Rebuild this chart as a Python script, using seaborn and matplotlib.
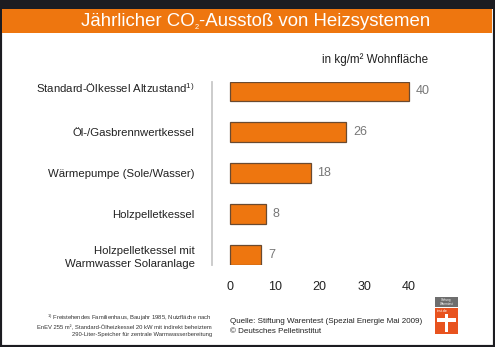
import matplotlib
matplotlib.use("Agg")
import matplotlib.pyplot as plt
import seaborn as sns
import pandas as pd
from matplotlib.patches import Rectangle
from matplotlib.transforms import ScaledTranslation

categories = [
    "Standard-Ölkessel Altzustand$^{1)}$",
    "Öl-/Gasbrennwertkessel",
    "Wärmepumpe (Sole/Wasser)",
    "Holzpelletkessel",
    "Holzpelletkessel mit\nWarmwasser Solaranlage",
]
values = [40, 26, 18, 8, 7]
xticks = [0, 10, 20, 30, 40]

title_parts = ["Jährlicher CO", "2", "-Ausstoß von Heizsystemen"]
unit_label = "in kg/m² Wohnfläche"
footnote = ("$^{1)}$ Freistehendes Familienhaus, Baujahr 1985, Nutzfläche nach\n"
            "EnEV 255 m², Standard-Ölheizkessel 20 kW mit indirekt beheiztem\n"
            "290-Liter-Speicher für zentrale Warmwasserbereitung")
source = "Quelle: Stiftung Warentest (Spezial Energie Mai 2009)\n© Deutsches Pelletinstitut"

ORANGE = "#ee760f"
DARK = "#1c1c21"

sns.set_theme(style="white")
plt.rcParams["font.family"] = ["Liberation Sans", "DejaVu Sans"]
plt.rcParams["mathtext.fontset"] = "custom"
plt.rcParams["mathtext.rm"] = "Liberation Sans"
plt.rcParams["mathtext.it"] = "Liberation Sans"
plt.rcParams["mathtext.bf"] = "Liberation Sans:bold"

W, H = 495, 347
fig = plt.figure(figsize=(W / 100, H / 100), dpi=100)
fig.patch.set_facecolor("white")

def fx(px):
    return px / W

def fy(py):
    return 1 - py / H

# frame and title band
fig.add_artist(Rectangle((0, 0), 1, 1, transform=fig.transFigure, facecolor="none",
                         edgecolor=DARK, linewidth=3.0))
fig.add_artist(Rectangle((0, fy(8.5)), 1, 8.5 / H, transform=fig.transFigure,
                         facecolor=DARK, edgecolor="none"))
fig.add_artist(Rectangle((fx(1.5), fy(32.5)), fx(492) - fx(1.5), 24 / H, transform=fig.transFigure,
                         facecolor=ORANGE, edgecolor="none"))

# axes
left_px, right_px = 212, 470
top_px, bot_px = 81.5, 264.5
ax = fig.add_axes([fx(left_px), fy(bot_px), fx(right_px) - fx(left_px), (bot_px - top_px) / H])

df = pd.DataFrame({"cat": categories, "val": values})
sns.barplot(data=df, x="val", y="cat", orient="h", color=ORANGE, width=0.48,
            edgecolor="#6a4a30", linewidth=0.9, saturation=1, ax=ax)

px_per_unit = (409 - 230) / 40
ax.set_xlim(-(230 - left_px) / px_per_unit, -(230 - left_px) / px_per_unit + (right_px - left_px) / px_per_unit)
ax.set_ylim(4.24, -0.24)

for c in ax.containers:
    ax.bar_label(c, padding=5, color="#777777", fontsize=9)

ax.set_xticks(xticks)
ax.set_xticklabels([str(t) for t in xticks])
ax.set_xlabel("")
ax.set_ylabel("")
ax.tick_params(axis="x", length=0, pad=12, labelsize=9, colors="#222222")
ax.tick_params(axis="y", length=0, pad=12.5, labelsize=8.2, colors="#222222")
for s in ["top", "right", "bottom"]:
    ax.spines[s].set_visible(False)
ax.spines["left"].set_color("#c8c8c8")
ax.spines["left"].set_linewidth(1.3)
ax.set_facecolor("none")

t_unit = fig.text(fx(322), fy(60), unit_label, fontsize=8.2, color="#222222", ha="left", va="center")
t_foot = fig.text(fx(212), fy(325), footnote, fontsize=4.4, color="#333333", ha="right", va="center",
                  linespacing=1.45, multialignment="right")
t_src = fig.text(fx(230), fy(326.5), source, fontsize=6.0, color="#222222", ha="left", va="center",
                 linespacing=1.45)

# fit text sizes to the widths measured on the reference
fig.canvas.draw()
renderer = fig.canvas.get_renderer()

def fit(t, target):
    w = t.get_window_extent(renderer).width
    t.set_fontsize(t.get_fontsize() * target / w)

fit(t_unit, 106)
fit(t_foot, 173)
fit(t_src, 195)

# title with a tiny subscript, built from pieces
fs = 13.0
def title_width(fs):
    tot = 0
    for i, p in enumerate(title_parts):
        tt = fig.text(0, 0, p, fontsize=fs * (0.4 if i == 1 else 1))
        tot += tt.get_window_extent(renderer).width
        tt.remove()
    return tot
fs = fs * 349 / title_width(fs)
xpos = 81.0
base_y = fy(26.2)
for i, p in enumerate(title_parts):
    size = fs * (0.4 if i == 1 else 1)
    yy = base_y - (2.5 / H if i == 1 else 0)
    tt = fig.text(fx(xpos), yy, p, fontsize=size, color="white", ha="left", va="baseline")
    xpos += tt.get_window_extent(renderer).width

ylabels = ax.get_yticklabels()
w0 = ylabels[0].get_window_extent(renderer).width
ysize = 8.2 * 159 / w0
ax.tick_params(axis="y", labelsize=ysize)
ylabels = ax.get_yticklabels()
ylabels[0].set_transform(ylabels[0].get_transform() + ScaledTranslation(0, 4 / 100, fig.dpi_scale_trans))
ylabels[-1].set_linespacing(1.45)

# logo
lx0, lx1 = 435, 458
fig.add_artist(Rectangle((fx(lx0), fy(307)), fx(lx1) - fx(lx0), 10 / H, transform=fig.transFigure,
                         facecolor="#6e6e6e", edgecolor="none"))
fig.text(fx((lx0 + lx1) / 2), fy(302), "Stiftung\nWarentest", fontsize=2.2, color="white",
         ha="center", va="center", linespacing=1.0)
fig.add_artist(Rectangle((fx(lx0), fy(334)), fx(lx1) - fx(lx0), 26 / H, transform=fig.transFigure,
                         facecolor="#e8531f", edgecolor="none"))
fig.text(fx(lx0 + 1.5), fy(311), "test.de", fontsize=2.6, color="white", ha="left", va="center")
fig.add_artist(Rectangle((fx(445), fy(332)), fx(448.5) - fx(445), 18 / H, transform=fig.transFigure,
                         facecolor="white", edgecolor="none"))
fig.add_artist(Rectangle((fx(437), fy(321.5)), fx(456) - fx(437), 3.5 / H, transform=fig.transFigure,
                         facecolor="white", edgecolor="none"))

fig.savefig("out.png", dpi=100)
